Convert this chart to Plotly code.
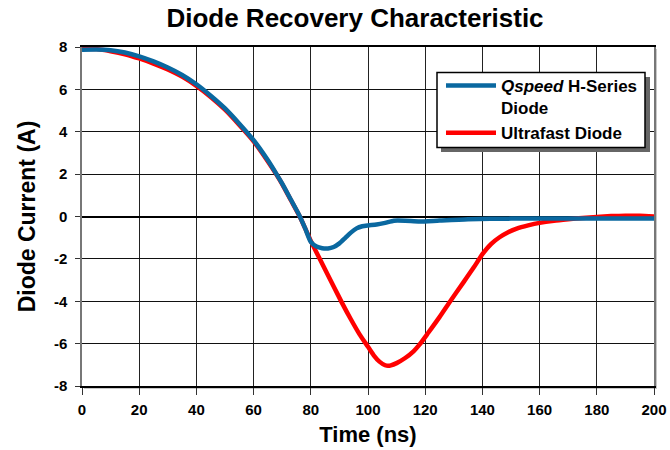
import plotly.graph_objects as go

# Time (ns) and current (A) samples
t_qspeed = [0, 5, 10, 15, 20, 25, 30, 35, 40, 45, 50, 55, 60, 65, 68, 70, 73, 76, 78, 80, 82, 84, 86, 88, 90, 92, 94, 96, 98, 100, 103, 106, 109, 113, 118, 125, 135, 150, 170, 200]
i_qspeed = [7.87, 7.88, 7.85, 7.74, 7.56, 7.32, 7.03, 6.68, 6.24, 5.7, 5.1, 4.38, 3.6, 2.65, 2.0, 1.55, 0.8, 0.05, -0.55, -1.2, -1.42, -1.5, -1.51, -1.44, -1.27, -1.02, -0.76, -0.56, -0.46, -0.42, -0.38, -0.3, -0.2, -0.2, -0.24, -0.19, -0.13, -0.1, -0.1, -0.1]

t_ultra = [0, 5, 10, 15, 20, 25, 30, 35, 40, 45, 50, 55, 60, 65, 68, 70, 73, 76, 78, 80, 82, 85, 88, 91, 94, 97, 100, 102, 104, 106, 107, 108, 110, 113, 116, 118, 121, 125, 129, 133, 137, 140, 143, 146, 149, 152, 156, 160, 165, 170, 175, 180, 185, 190, 195, 200]
i_ultra = [7.93, 7.9, 7.8, 7.66, 7.46, 7.22, 6.94, 6.6, 6.16, 5.64, 5.04, 4.32, 3.55, 2.6, 1.98, 1.53, 0.78, 0.03, -0.55, -1.15, -1.7, -2.5, -3.3, -4.1, -4.85, -5.55, -6.15, -6.55, -6.85, -7.02, -7.05, -7.03, -6.92, -6.68, -6.35, -6.05, -5.5, -4.75, -3.95, -3.18, -2.4, -1.78, -1.3, -0.98, -0.74, -0.57, -0.42, -0.3, -0.2, -0.13, -0.07, -0.02, 0.02, 0.04, 0.03, 0.0]

x_ticks = [0, 20, 40, 60, 80, 100, 120, 140, 160, 180, 200]
y_ticks = [-8, -6, -4, -2, 0, 2, 4, 6, 8]

FONT = "Liberation Sans"

fig = go.Figure()
fig.add_trace(go.Scatter(
    x=t_ultra, y=i_ultra, mode="lines", name="Ultrafast Diode",
    line=dict(color="#ff0000", width=4.5, shape="spline", smoothing=0.6),
    legendrank=2,
))
fig.add_trace(go.Scatter(
    x=t_qspeed, y=i_qspeed, mode="lines", name="<i>Qspeed</i> H-Series<br>Diode",
    line=dict(color="#0a68a0", width=4.5, shape="spline", smoothing=0.6),
    legendrank=1,
))

L, R, T, B = 82, 16, 47, 64
W, H = 670, 450
pw, ph = W - L - R, H - T - B

def px_x(p):
    return (p - L) / pw

def px_y(p):
    return (H - B - p) / ph

# plot-area drop shadow and white background
fig.add_shape(type="rect", xref="paper", yref="paper",
              x0=px_x(84), x1=px_x(657), y0=px_y(389), y1=px_y(49),
              fillcolor="#c8c8c8", line=dict(width=0), layer="below")
fig.add_shape(type="rect", xref="paper", yref="paper",
              x0=0, x1=1, y0=0, y1=1,
              fillcolor="white", line=dict(width=0), layer="below")

# legend box with drop shadow
fig.add_shape(type="rect", xref="paper", yref="paper",
              x0=px_x(441), x1=px_x(650), y0=px_y(152), y1=px_y(77),
              fillcolor="#666666", line=dict(width=0), layer="above")
fig.add_shape(type="rect", xref="paper", yref="paper",
              x0=px_x(437), x1=px_x(645), y0=px_y(147.5), y1=px_y(72.5),
              fillcolor="white", line=dict(width=1.5, color="black"), layer="above")

fig.update_layout(
    width=W, height=H,
    margin=dict(l=L, r=R, t=T, b=B),
    paper_bgcolor="white", plot_bgcolor="rgba(0,0,0,0)",
    font=dict(family=FONT, color="black"),
    title=dict(text="<b>Diode Recovery Characteristic</b>", x=px_x(355), xref="paper",
               xanchor="center", y=1 - 18 / H, yref="container", yanchor="middle",
               font=dict(size=26, family=FONT, color="black")),
    showlegend=True,
    legend=dict(x=px_x(441), y=px_y(68), xanchor="left", yanchor="top",
                bgcolor="rgba(0,0,0,0)", borderwidth=0, valign="top",
                font=dict(size=17, family=FONT, color="black", weight="bold"),
                tracegroupgap=0, itemwidth=50),
)
fig.update_xaxes(
    range=[0, 200], tickvals=x_ticks, ticktext=[str(v) for v in x_ticks],
    showgrid=True, gridcolor="#222222", gridwidth=1,
    showline=True, linecolor="black", linewidth=1.5, mirror=True,
    ticks="outside", ticklen=7, tickcolor="#333333",
    ticklabelstandoff=2,
    tickfont=dict(size=15, family=FONT, color="black", weight="bold"),
    title=dict(text="<b>Time (ns)</b>", font=dict(size=22, family=FONT, color="black"), standoff=10),
    zeroline=False, automargin=False,
)
fig.update_yaxes(
    range=[-8, 8], tickvals=y_ticks, ticktext=[str(v) for v in y_ticks],
    showgrid=True, gridcolor="#111111", gridwidth=1,
    showline=True, linecolor="#777777", linewidth=1.5, mirror=True,
    ticks="outside", ticklen=5, tickcolor="#333333",
    ticklabelstandoff=5,
    tickfont=dict(size=15, family=FONT, color="black", weight="bold"),
    title=dict(text="<b>Diode Current (A)</b>", font=dict(size=23, family=FONT, color="black"), standoff=12),
    zeroline=True, zerolinecolor="black", zerolinewidth=2, automargin=False,
)

fig.write_html("out.html")
